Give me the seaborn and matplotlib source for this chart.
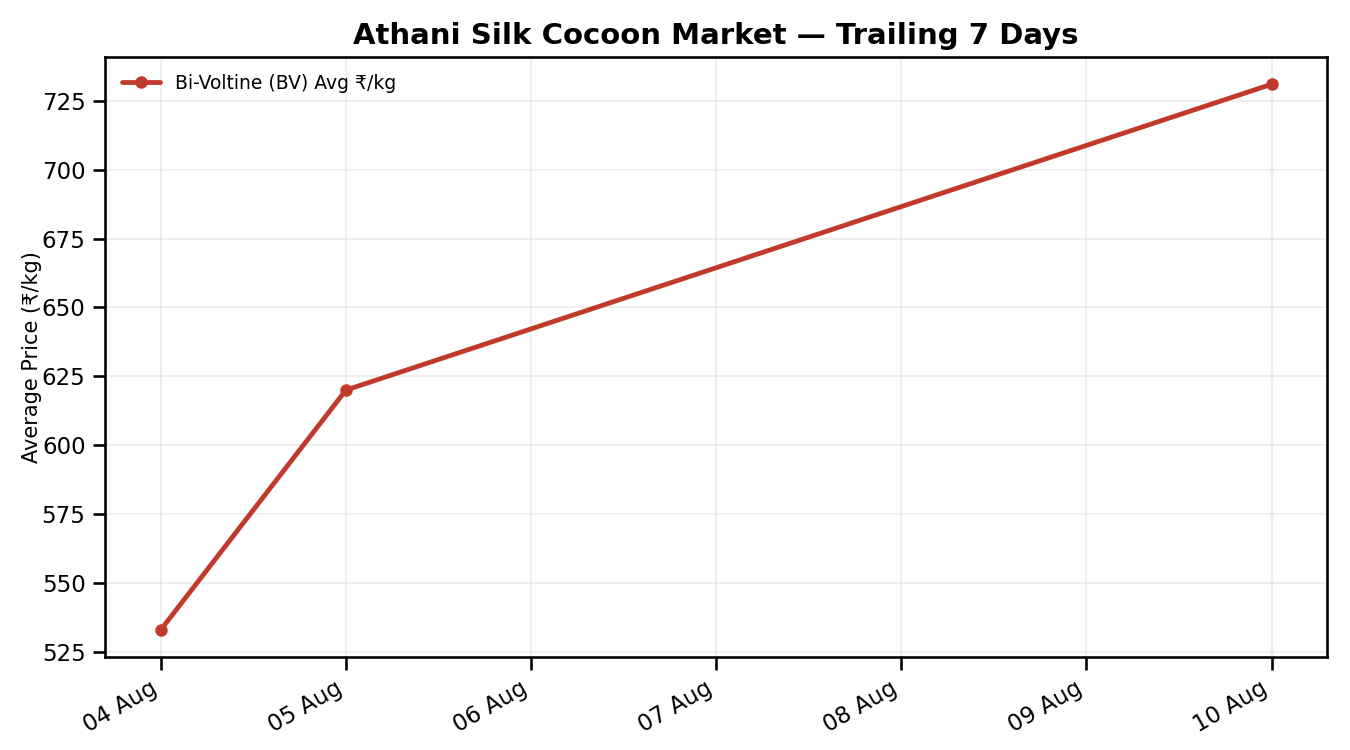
import pandas as pd
import matplotlib.pyplot as plt
import matplotlib.dates as mdates
import seaborn as sns

dates = ['2024-08-04', '2024-08-05', '2024-08-10']
prices = [533, 620, 731]
series_label = 'Bi-Voltine (BV) Avg ₹/kg'

df = pd.DataFrame({'Date': pd.to_datetime(dates), 'Price': prices})

sns.set_theme(style='ticks')
plt.rcParams['font.family'] = ['DejaVu Sans', 'Noto Sans']
plt.rcParams.update({'text.color': 'black', 'axes.labelcolor': 'black',
                     'xtick.color': 'black', 'ytick.color': 'black',
                     'axes.edgecolor': 'black'})

fig, ax = plt.subplots(figsize=(9, 5), dpi=150)
sns.lineplot(data=df, x='Date', y='Price', ax=ax, color='#c0392b',
             linewidth=2.3, marker='o', markersize=6, markeredgewidth=0,
             label=series_label)

ax.set_title('Athani Silk Cocoon Market — Trailing 7 Days',
             fontsize=14, fontweight='bold')
ax.set_xlabel('')
ax.set_ylabel('Average Price (₹/kg)', fontsize=10, labelpad=0)
ax.xaxis.set_major_locator(mdates.DayLocator())
ax.xaxis.set_major_formatter(mdates.DateFormatter('%d Aug'))
ax.tick_params(labelsize=11)
ax.grid(True, alpha=0.3)
ax.legend(loc='upper left', frameon=False, fontsize=9)
plt.setp(ax.get_xticklabels(), rotation=30, ha='right')

fig.subplots_adjust(left=0.078, right=0.983, top=0.924, bottom=0.124)
fig.savefig('out.png', dpi=150)
